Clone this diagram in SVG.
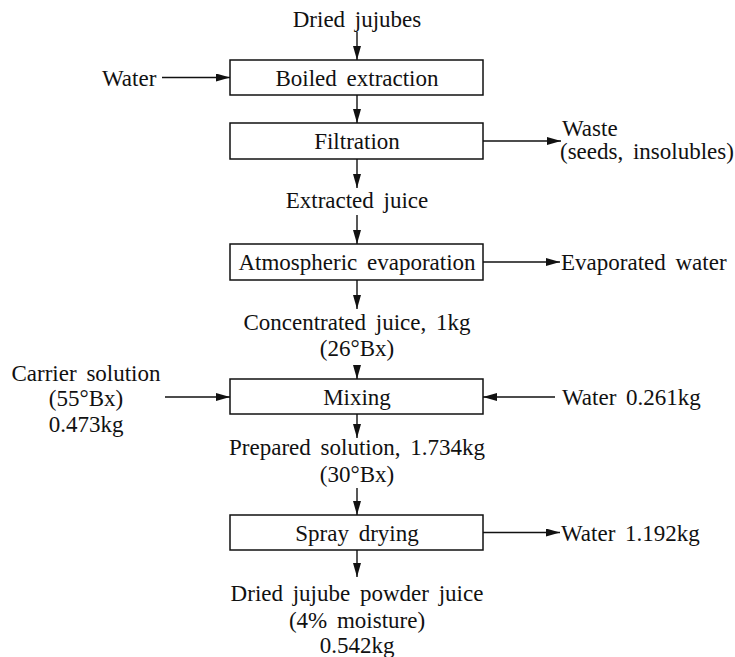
<svg xmlns="http://www.w3.org/2000/svg" width="735" height="657" viewBox="0 0 735 657">
<style>
  text { font-family: "Liberation Serif", "DejaVu Serif", serif; font-size: 23px; fill: #111; word-spacing: 4px; }
  .c { text-anchor: middle; }
  .box { fill: #fff; stroke: #111; stroke-width: 1.5; }
  .ln { stroke: #111; stroke-width: 1.4; fill: none; marker-end: url(#ah); }
</style>
<defs>
  <marker id="ah" viewBox="0 0 14 8" refX="14" refY="4" markerWidth="14" markerHeight="8" markerUnits="userSpaceOnUse" orient="auto">
    <path d="M0,0 L14,4 L0,8 z" fill="#111"/>
  </marker>
</defs>
<rect width="735" height="657" fill="#fff"/>
<g id="connectors">
  <line class="ln" x1="357" y1="32" x2="357" y2="60"/>
  <line class="ln" x1="162" y1="77.5" x2="230" y2="77.5"/>
  <line class="ln" x1="357" y1="95" x2="357" y2="123"/>
  <line class="ln" x1="483" y1="141" x2="561" y2="141"/>
  <line class="ln" x1="357" y1="159" x2="357" y2="188"/>
  <line class="ln" x1="357" y1="215" x2="357" y2="244"/>
  <line class="ln" x1="483" y1="262" x2="560" y2="262"/>
  <line class="ln" x1="357" y1="280" x2="357" y2="309"/>
  <line class="ln" x1="357" y1="365" x2="357" y2="379"/>
  <line class="ln" x1="165" y1="397" x2="230" y2="397"/>
  <line class="ln" x1="555" y1="397" x2="483" y2="397"/>
  <line class="ln" x1="357" y1="414" x2="357" y2="438"/>
  <line class="ln" x1="357" y1="488" x2="357" y2="515"/>
  <line class="ln" x1="483" y1="532.5" x2="560" y2="532.5"/>
  <line class="ln" x1="357" y1="550" x2="357" y2="577"/>
</g>
<g id="boiled-extraction">
  <rect class="box" x="230" y="60" width="253" height="35"/>
  <text class="c" x="357" y="86">Boiled extraction</text>
</g>
<g id="filtration">
  <rect class="box" x="230" y="123" width="253" height="36"/>
  <text class="c" x="357" y="149">Filtration</text>
</g>
<g id="atmospheric-evaporation">
  <rect class="box" x="230" y="244" width="253" height="36"/>
  <text class="c" x="357" y="270">Atmospheric evaporation</text>
</g>
<g id="mixing">
  <rect class="box" x="230" y="379" width="253" height="35"/>
  <text class="c" x="357" y="405">Mixing</text>
</g>
<g id="spray-drying">
  <rect class="box" x="230" y="515" width="253" height="35"/>
  <text class="c" x="357" y="541">Spray drying</text>
</g>
<g id="dried-jujubes">
  <text class="c" x="357" y="27">Dried jujubes</text>
</g>
<g id="water-in">
  <text x="102" y="86">Water</text>
</g>
<g id="waste">
  <text x="562" y="136">Waste</text>
  <text x="560" y="159">(seeds, insolubles)</text>
</g>
<g id="extracted-juice">
  <text class="c" x="357" y="208">Extracted juice</text>
</g>
<g id="evaporated-water">
  <text x="561" y="270">Evaporated water</text>
</g>
<g id="concentrated-juice">
  <text class="c" x="357" y="330">Concentrated juice, 1kg</text>
  <text class="c" x="357" y="356">(26°Bx)</text>
</g>
<g id="carrier-solution">
  <text class="c" x="86" y="381">Carrier solution</text>
  <text class="c" x="86" y="406">(55°Bx)</text>
  <text class="c" x="86" y="432">0.473kg</text>
</g>
<g id="water-mixing">
  <text x="562" y="405">Water 0.261kg</text>
</g>
<g id="prepared-solution">
  <text class="c" x="357" y="455">Prepared solution, 1.734kg</text>
  <text class="c" x="357" y="482">(30°Bx)</text>
</g>
<g id="water-spray">
  <text x="561" y="541">Water 1.192kg</text>
</g>
<g id="dried-powder">
  <text class="c" x="357" y="601">Dried jujube powder juice</text>
  <text class="c" x="357" y="628">(4% moisture)</text>
  <text class="c" x="357" y="653">0.542kg</text>
</g>
</svg>
